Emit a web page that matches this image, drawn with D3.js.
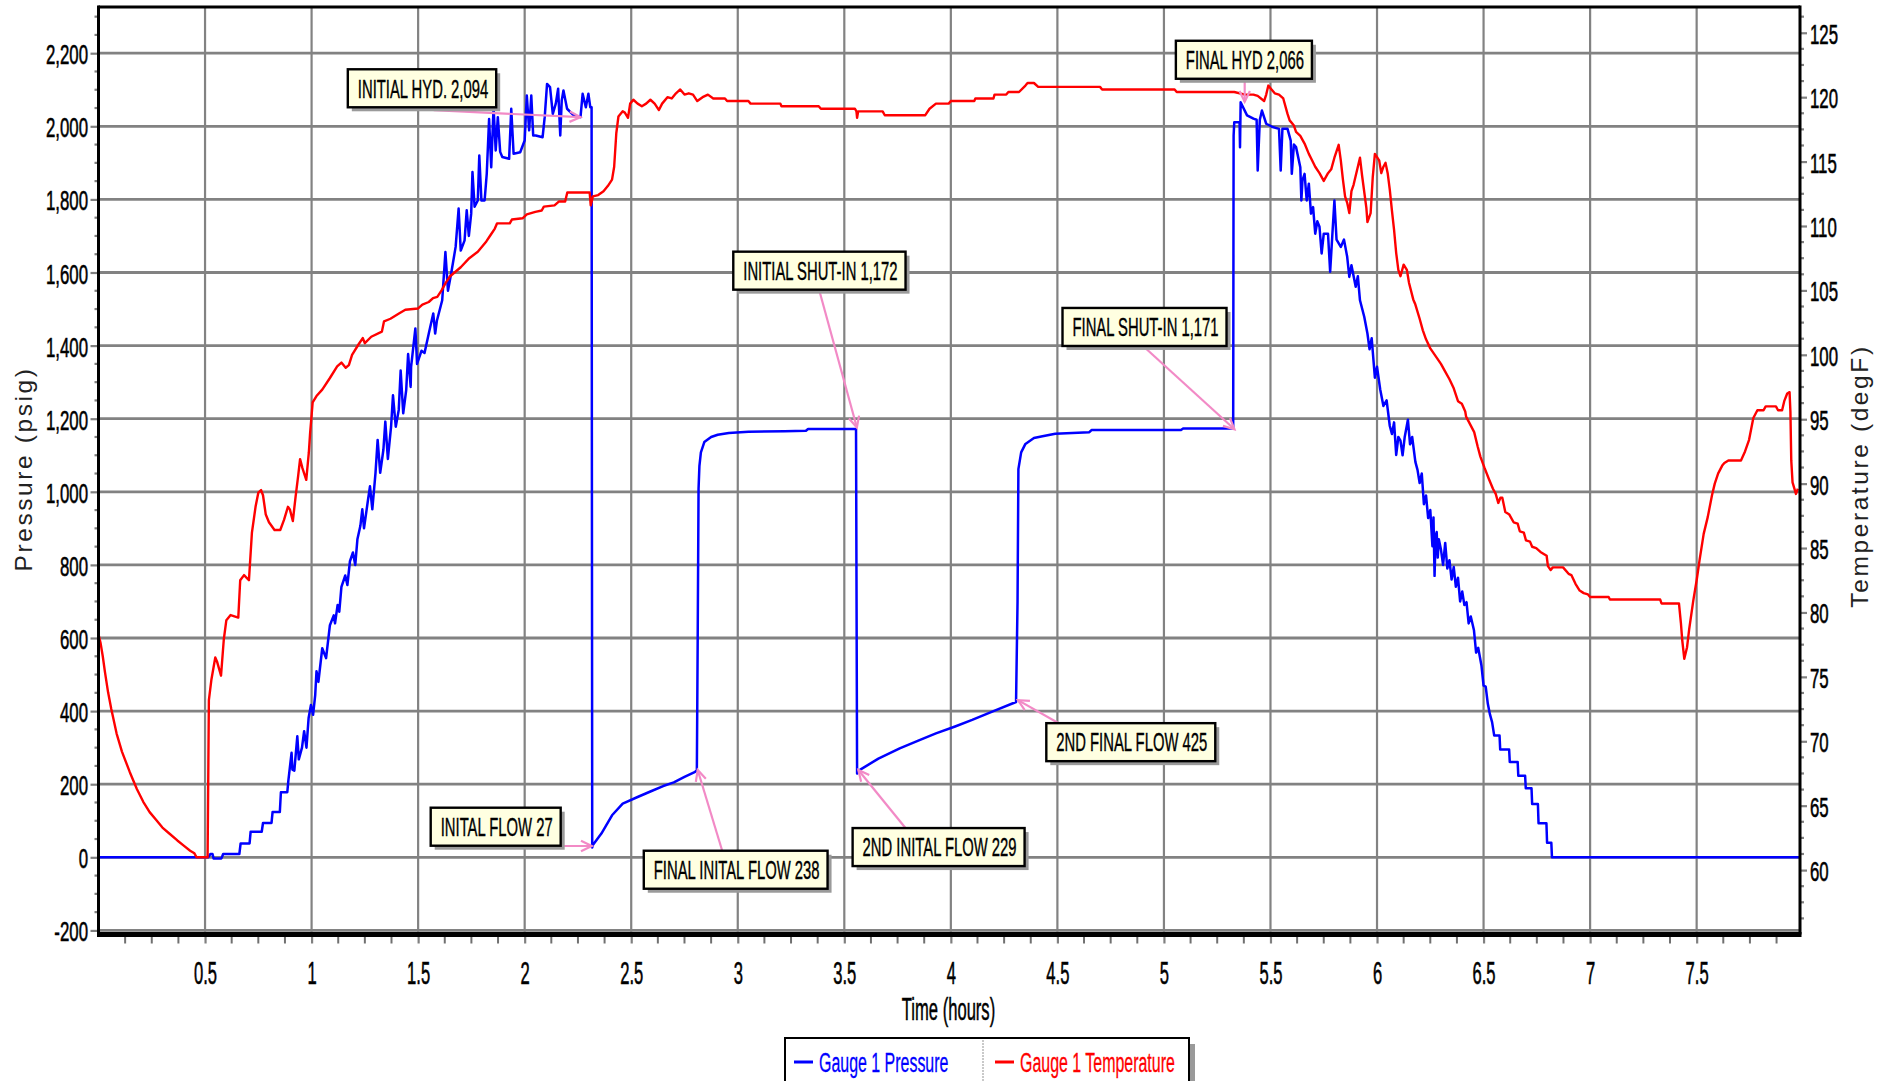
<!DOCTYPE html>
<html><head><meta charset="utf-8">
<script src="https://cdn.jsdelivr.net/npm/d3@7"></script>
<style>html,body{margin:0;padding:0;background:#fff;overflow:hidden}svg{display:block}</style>
</head><body>
<svg id="c" width="1900" height="1081"></svg>
<script>
// ---------------- DATA ----------------
const seriesNames = ["Gauge 1 Pressure", "Gauge 1 Temperature"];
const timeTicks = [0.5,1,1.5,2,2.5,3,3.5,4,4.5,5,5.5,6,6.5,7,7.5];
const pressureTicks = [-200,0,200,400,600,800,1000,1200,1400,1600,1800,2000,2200];
const tempTicks = [60,65,70,75,80,85,90,95,100,105,110,115,120,125];

// [time (hours), pressure (psig)]
const pressure = [
[0,0],[0.515,0],[0.525,9],[0.535,9],[0.54,-3],[0.577,-3],[0.585,9],[0.661,9],[0.667,38],[0.709,38],[0.714,70],[0.766,70],[0.772,94],[0.812,94],[0.817,124],[0.851,124],[0.856,178],[0.886,178],[0.891,210],[0.906,286],[0.91,240],[0.919,237],[0.933,331],[0.94,268],[0.955,300],[0.965,345],[0.976,300],[0.986,381],[0.997,417],[1.007,390],[1.017,444],[1.023,509],[1.032,480],[1.05,572],[1.068,545],[1.086,635],[1.104,662],[1.11,640],[1.122,690],[1.13,672],[1.14,740],[1.158,771],[1.168,745],[1.18,810],[1.194,834],[1.205,800],[1.215,870],[1.229,907],[1.238,952],[1.246,900],[1.265,979],[1.274,1015],[1.285,952],[1.30,1052],[1.31,1142],[1.322,1052],[1.337,1115],[1.346,1192],[1.358,1090],[1.373,1178],[1.382,1264],[1.395,1178],[1.409,1224],[1.418,1332],[1.43,1215],[1.444,1278],[1.453,1377],[1.465,1287],[1.467,1342],[1.487,1447],[1.495,1350],[1.516,1386],[1.53,1380],[1.55,1433],[1.571,1488],[1.58,1433],[1.588,1468],[1.613,1524],[1.628,1656],[1.64,1550],[1.655,1597],[1.676,1670],[1.69,1775],[1.70,1660],[1.718,1688],[1.728,1770],[1.738,1700],[1.749,1761],[1.755,1875],[1.765,1780],[1.78,1797],[1.787,1920],[1.797,1797],[1.812,1797],[1.822,1870],[1.833,2020],[1.843,1888],[1.854,2052],[1.864,1934],[1.874,2025],[1.885,1930],[1.895,1916],[1.927,1911],[1.937,2048],[1.948,1925],[1.979,1929],[2.0,1961],[2.01,2084],[2.021,1989],[2.031,2084],[2.04,1975],[2.052,1975],[2.084,1970],[2.094,2025],[2.105,2116],[2.119,2107],[2.132,2034],[2.146,2062],[2.157,2103],[2.167,1975],[2.174,2071],[2.182,2098],[2.199,2048],[2.23,2030],[2.262,2025],[2.272,2089],[2.287,2052],[2.299,2089],[2.308,2052],[2.314,2052],[2.317,27],
[2.32,34],[2.36,65],[2.41,115],[2.46,147],[2.53,165],[2.59,180],[2.65,195],[2.70,205],[2.75,220],[2.80,234],[2.808,238],[2.812,600],[2.816,1008],[2.82,1070],[2.827,1108],[2.843,1136],[2.875,1150],[2.906,1156],[2.958,1161],[3.05,1164],[3.22,1166],[3.32,1167],[3.33,1172],[3.555,1172],[3.56,229],
[3.575,240],[3.66,270],[3.76,298],[3.85,320],[3.93,339],[4.02,358],[4.10,376],[4.20,400],[4.306,425],[4.313,700],[4.317,1062],[4.33,1108],[4.35,1131],[4.39,1147],[4.43,1152],[4.49,1159],[4.65,1163],[4.66,1169],[5.08,1169],[5.09,1173],[5.325,1173],
[5.327,1975],[5.33,2011],[5.355,2011],[5.357,1943],[5.36,2066],[5.39,2030],[5.42,2021],[5.435,2018],[5.44,1879],[5.45,2018],[5.46,2043],[5.48,2007],[5.51,1998],[5.54,1993],[5.548,1879],[5.556,1993],[5.58,1993],[5.595,1961],[5.60,1870],[5.61,1950],[5.62,1943],[5.64,1888],[5.645,1797],[5.65,1852],[5.66,1870],[5.67,1797],[5.68,1843],[5.69,1761],[5.70,1779],[5.71,1706],[5.72,1740],[5.73,1725],[5.74,1652],[5.75,1706],[5.77,1706],[5.78,1602],[5.79,1700],[5.80,1797],[5.81,1690],[5.83,1670],[5.845,1690],[5.86,1643],[5.87,1588],[5.88,1620],[5.90,1561],[5.91,1590],[5.92,1524],[5.94,1479],[5.955,1433],[5.965,1390],[5.975,1420],[5.99,1312],[6.0,1342],[6.015,1280],[6.03,1235],[6.045,1250],[6.06,1180],[6.07,1158],[6.08,1190],[6.09,1101],[6.10,1150],[6.11,1140],[6.12,1100],[6.13,1150],[6.145,1197],[6.155,1130],[6.165,1150],[6.18,1082],[6.19,1060],[6.20,1024],[6.21,1050],[6.22,966],[6.23,990],[6.24,928],[6.25,950],[6.26,851],[6.265,930],[6.27,770],[6.275,880],[6.28,890],[6.285,820],[6.29,870],[6.30,842],[6.31,800],[6.32,860],[6.33,790],[6.34,813],[6.35,760],[6.36,794],[6.37,740],[6.38,765],[6.39,700],[6.40,727],[6.41,690],[6.42,698],[6.43,640],[6.44,659],[6.455,621],[6.465,560],[6.475,573],[6.49,525],[6.50,470],[6.51,467],[6.52,420],[6.53,391],[6.54,370],[6.55,333],[6.575,333],[6.578,295],[6.62,295],[6.623,261],[6.66,261],[6.663,223],[6.695,223],[6.698,189],[6.725,189],[6.728,146],[6.755,146],[6.758,93],[6.795,93],[6.798,40],[6.818,40],[6.821,0],[7.985,0]
];

// [time (hours), temperature (degF)]
const temperature = [
[0,78.3],[0.01,77.6],[0.02,76.6],[0.03,75.4],[0.045,73.8],[0.06,72.5],[0.085,70.6],[0.11,69.2],[0.147,67.6],[0.18,66.3],[0.21,65.3],[0.24,64.5],[0.27,63.9],[0.30,63.3],[0.335,62.8],[0.37,62.3],[0.40,61.9],[0.43,61.5],[0.45,61.3],[0.46,61.0],[0.512,61.0],
[0.518,73.2],[0.53,74.8],[0.548,76.5],[0.556,76.2],[0.575,75.1],[0.588,77.9],[0.60,79.4],[0.62,79.8],[0.656,79.6],[0.665,82.5],[0.683,82.9],[0.706,82.5],[0.72,86.2],[0.737,88.2],[0.75,89.3],[0.763,89.5],[0.772,89.1],[0.785,87.6],[0.80,87.0],[0.826,86.4],[0.853,86.4],[0.871,87.2],[0.889,88.2],[0.898,88.0],[0.912,87.1],[0.925,89.0],[0.937,90.6],[0.946,91.9],[0.957,91.2],[0.975,90.3],[0.987,92.4],[0.993,93.9],[1.005,96.3],[1.023,96.8],[1.05,97.3],[1.086,98.2],[1.12,99.1],[1.14,99.4],[1.16,99.0],[1.175,99.2],[1.19,100.0],[1.22,100.8],[1.24,101.3],[1.25,100.9],[1.28,101.4],[1.33,101.8],[1.34,102.6],[1.37,102.8],[1.41,103.2],[1.44,103.5],[1.50,103.6],[1.52,103.9],[1.55,104.1],[1.57,104.4],[1.59,104.5],[1.61,105.0],[1.63,105.6],[1.65,106.1],[1.70,106.8],[1.74,107.5],[1.78,108.0],[1.82,108.8],[1.84,109.3],[1.86,109.8],[1.87,110.2],[1.93,110.2],[1.94,110.5],[1.99,110.6],[2.01,110.9],[2.05,111.1],[2.08,111.2],[2.09,111.5],[2.14,111.6],[2.16,111.9],[2.19,111.9],[2.20,112.6],[2.305,112.6],[2.31,111.6],[2.32,112.3],[2.345,112.4],[2.37,112.7],[2.39,113.1],[2.41,113.6],[2.42,114.6],[2.43,117.2],[2.44,118.5],[2.46,118.9],[2.47,118.8],[2.485,118.4],[2.495,119.5],[2.51,119.8],[2.53,119.5],[2.55,119.3],[2.57,119.5],[2.59,119.8],[2.61,119.5],[2.63,119.0],[2.645,119.5],[2.67,120.0],[2.69,119.9],[2.71,120.3],[2.73,120.6],[2.75,120.2],[2.77,120.3],[2.79,120.2],[2.81,119.7],[2.835,120.0],[2.86,120.2],[2.885,119.9],[2.94,119.9],[2.95,119.7],[3.05,119.7],[3.06,119.5],[3.20,119.5],[3.205,119.3],[3.38,119.3],[3.39,119.1],[3.55,119.1],[3.557,118.9],[3.56,118.4],[3.565,118.9],[3.68,118.9],[3.69,118.6],[3.88,118.6],[3.90,119.1],[3.93,119.5],[3.99,119.5],[4.0,119.7],[4.11,119.7],[4.115,119.9],[4.20,119.9],[4.205,120.2],[4.26,120.2],[4.27,120.4],[4.32,120.4],[4.35,120.9],[4.36,121.1],[4.39,121.1],[4.41,120.8],[4.70,120.8],[4.71,120.6],[5.05,120.6],[5.06,120.4],[5.33,120.4],[5.38,120.2],[5.42,120.2],[5.44,120.1],[5.47,119.7],[5.48,120.2],[5.49,120.9],[5.50,120.7],[5.52,120.3],[5.54,120.2],[5.56,119.9],[5.58,118.7],[5.59,118.2],[5.61,117.8],[5.62,117.3],[5.64,117.0],[5.66,116.4],[5.68,115.6],[5.695,115.1],[5.71,114.6],[5.73,114.1],[5.75,113.5],[5.77,114.1],[5.785,114.4],[5.80,115.3],[5.82,116.3],[5.83,115.1],[5.84,113.6],[5.85,112.3],[5.86,111.8],[5.87,111.0],[5.88,112.7],[5.89,113.2],[5.91,114.6],[5.92,115.3],[5.93,113.9],[5.95,111.4],[5.955,110.3],[5.97,111.0],[5.98,113.8],[5.99,115.6],[6.01,115.1],[6.02,114.1],[6.03,114.6],[6.04,114.9],[6.05,114.1],[6.06,112.8],[6.07,111.2],[6.08,109.7],[6.09,107.9],[6.10,106.6],[6.11,106.1],[6.125,107.0],[6.14,106.6],[6.15,105.6],[6.17,104.3],[6.18,103.9],[6.20,102.8],[6.215,101.9],[6.23,101.2],[6.25,100.5],[6.30,99.3],[6.32,98.7],[6.34,98.1],[6.36,97.4],[6.38,96.4],[6.398,96.2],[6.414,95.6],[6.418,95.2],[6.437,94.6],[6.456,94.0],[6.472,92.9],[6.485,92.1],[6.505,91.2],[6.524,90.4],[6.544,89.6],[6.557,89.2],[6.569,88.5],[6.579,88.9],[6.588,88.9],[6.602,87.8],[6.621,87.6],[6.641,87.0],[6.66,86.9],[6.67,86.3],[6.689,86.2],[6.699,85.6],[6.718,85.5],[6.728,85.1],[6.747,85.0],[6.767,84.7],[6.796,84.4],[6.802,83.6],[6.815,83.3],[6.825,83.5],[6.873,83.5],[6.899,83.0],[6.912,82.9],[6.932,82.2],[6.951,81.7],[6.97,81.5],[6.99,81.4],[7.0,81.2],[7.087,81.2],[7.093,81.0],[7.329,81.0],[7.335,80.7],[7.417,80.7],[7.426,79.2],[7.432,77.9],[7.442,76.4],[7.455,77.3],[7.465,78.7],[7.484,80.9],[7.50,82.5],[7.514,84.1],[7.533,86.1],[7.552,87.4],[7.572,89.1],[7.585,90.0],[7.601,90.8],[7.62,91.4],[7.63,91.6],[7.649,91.8],[7.708,91.8],[7.727,92.5],[7.746,93.4],[7.766,95.1],[7.785,95.7],[7.814,95.7],[7.824,96.0],[7.872,96.0],[7.882,95.7],[7.901,95.7],[7.911,96.4],[7.925,97.0],[7.936,97.1],[7.94,95.6],[7.944,91.8],[7.95,90.1],[7.966,89.2],[7.975,89.6]
];

// callouts: label, box top-left [t, psig], arrow tail [t, psig], arrow head [t, psig]
const notes = [
  {text:"INITIAL HYD. 2,094",      box:[1.170,2156], tail:[1.573,2044], head:[2.262,2025]},
  {text:"INITAL FLOW 27",          box:[1.559,135.7], tail:[2.160,31],  head:[2.315,31]},
  {text:"FINAL INITAL FLOW 238",   box:[2.559,18],   tail:[2.926,20],   head:[2.812,239]},
  {text:"INITIAL SHUT-IN 1,172",   box:[2.979,1657], tail:[3.383,1550], head:[3.559,1176]},
  {text:"2ND INITAL FLOW 229",     box:[3.539,80],   tail:[3.786,81],   head:[3.566,239]},
  {text:"2ND FINAL FLOW 425",      box:[4.448,367],  tail:[4.502,368],  head:[4.315,430]},
  {text:"FINAL SHUT-IN 1,171",     box:[4.524,1503], tail:[4.906,1397], head:[5.331,1171]},
  {text:"FINAL HYD 2,066",         box:[5.056,2234], tail:[5.379,2127], head:[5.379,2067]}
];

// ---------------- CHART ----------------
const L = 98.5, R = 1800, T = 7, B = 934.5;
const FONT = "'Liberation Sans', Arial, sans-serif";
const SX = 0.57;
const svg = d3.select("#c");
const x = d3.scaleLinear().domain([0, 7.985]).range([L, R]);
const yP = d3.scaleLinear().domain([-211.2, 2326.4]).range([B, T]);
const yT = d3.scaleLinear().domain([55.0, 127.0]).range([B, T]);

svg.append("rect").attr("width",1900).attr("height",1081).attr("fill","#fff");
svg.append("defs").append("clipPath").attr("id","clip")
  .append("rect").attr("x",L).attr("y",T).attr("width",R-L).attr("height",B-T);

// gridlines
const grid = svg.append("g");
grid.selectAll("line.v").data(timeTicks).join("line")
  .attr("x1",d=>x(d)).attr("x2",d=>x(d)).attr("y1",T).attr("y2",B)
  .attr("stroke","#828282").attr("stroke-width",2.2);
grid.selectAll("line.h").data(pressureTicks).join("line")
  .attr("x1",L).attr("x2",R).attr("y1",d=>yP(d)).attr("y2",d=>yP(d))
  .attr("stroke","#828282").attr("stroke-width",2.8);

// series
const plot = svg.append("g").attr("clip-path","url(#clip)");
plot.append("path").datum(pressure)
  .attr("d", d3.line().x(d=>x(d[0])).y(d=>yP(d[1])))
  .attr("fill","none").attr("stroke","#0000ff").attr("stroke-width",2.5).attr("stroke-linejoin","round");
plot.append("path").datum(temperature)
  .attr("d", d3.line().x(d=>x(d[0])).y(d=>yT(d[1])))
  .attr("fill","none").attr("stroke","#ff0000").attr("stroke-width",2.4).attr("stroke-linejoin","round");

// minor ticks
const minorT = d3.range(0.125, 7.985, 0.125).filter(v => Math.abs(v*2 - Math.round(v*2)) > 1e-6);
svg.append("g").selectAll("line").data(minorT).join("line")
  .attr("x1",d=>x(d)).attr("x2",d=>x(d)).attr("y1",B).attr("y2",B+9)
  .attr("stroke","#707070").attr("stroke-width",2);
const minorP = d3.range(-200, 2326, 50).filter(v => v % 200 !== 0);
svg.append("g").selectAll("line").data(minorP).join("line")
  .attr("x1",L-4).attr("x2",L).attr("y1",d=>yP(d)).attr("y2",d=>yP(d))
  .attr("stroke","#808080").attr("stroke-width",2.2);
const minorTT = d3.range(56.25, 127, 1.25).filter(v => Math.abs(v/5 - Math.round(v/5)) > 1e-6);
svg.append("g").selectAll("line").data(minorTT).join("line")
  .attr("x1",R).attr("x2",R+4).attr("y1",d=>yT(d)).attr("y2",d=>yT(d))
  .attr("stroke","#808080").attr("stroke-width",2.2);

// axes (ticks + labels)
const fmtP = d => d3.format(",")(d).replace("\u2212","-");
const gx = svg.append("g").attr("transform",`translate(0,${B})`)
  .call(d3.axisBottom(x).tickValues(timeTicks).tickSize(9).tickSizeOuter(0).tickFormat(d3.format("")));
const gl = svg.append("g").attr("transform",`translate(${L},0)`)
  .call(d3.axisLeft(yP).tickValues(pressureTicks).tickSize(8).tickSizeOuter(0).tickFormat(fmtP));
const gr = svg.append("g").attr("transform",`translate(${R},0)`)
  .call(d3.axisRight(yT).tickValues(tempTicks).tickSize(7).tickSizeOuter(0).tickFormat(d3.format("d")));
[gx,gl,gr].forEach(g => { g.select(".domain").remove();
  g.selectAll(".tick line").attr("stroke","#808080").attr("stroke-width",2.2); });
gx.selectAll(".tick text").attr("y",null).attr("dy",null)
  .attr("transform",`translate(0,49.5) scale(0.535,1)`)
  .attr("font-size",31).attr("font-family",FONT).attr("fill","#000")
  .attr("stroke","#000").attr("stroke-width",0.6);
gl.selectAll(".tick text").attr("x",null).attr("dy",null)
  .attr("transform",`translate(-10.5,10.5) scale(0.59,1)`)
  .attr("font-size",28.5).attr("font-family",FONT).attr("fill","#000")
  .attr("stroke","#000").attr("stroke-width",0.6);
gr.selectAll(".tick text").attr("x",null).attr("dy",null)
  .attr("transform",`translate(10,10.5) scale(0.59,1)`)
  .attr("font-size",28.5).attr("font-family",FONT).attr("fill","#000")
  .attr("stroke","#000").attr("stroke-width",0.6);

// frame
const frame = svg.append("g").attr("stroke","#000");
frame.append("line").attr("x1",L).attr("x2",R).attr("y1",T).attr("y2",T).attr("stroke-width",3);
frame.append("line").attr("x1",L).attr("x2",L).attr("y1",T-1.5).attr("y2",B).attr("stroke-width",3);
frame.append("line").attr("x1",R).attr("x2",R).attr("y1",T-1.5).attr("y2",B).attr("stroke-width",3);
frame.append("line").attr("x1",L-1.5).attr("x2",R+1.5).attr("y1",B).attr("y2",B).attr("stroke-width",5);

// axis titles
svg.append("text").attr("transform",`translate(948.5,1020) scale(0.535,1)`)
  .attr("text-anchor","middle").attr("font-size",31).attr("font-family",FONT)
  .attr("stroke","#000").attr("stroke-width",0.5).text("Time (hours)");
svg.append("text").attr("transform","translate(32,469) rotate(-90)")
  .attr("text-anchor","middle").attr("font-size",24.5).attr("letter-spacing",2.6)
  .attr("font-family",FONT).attr("fill","#222").text("Pressure (psig)");
svg.append("text").attr("transform","translate(1868,476) rotate(-90)")
  .attr("text-anchor","middle").attr("font-size",24.5).attr("letter-spacing",2.6)
  .attr("font-family",FONT).attr("fill","#222").text("Temperature (degF)");

// callouts
const PINK = "#f28ac6";
const ann = svg.append("g");
notes.forEach(n => {
  const tx = x(n.tail[0]), ty = yP(n.tail[1]);
  const hx = x(n.head[0]), hy = yP(n.head[1]);
  const a = Math.atan2(hy-ty, hx-tx), al = 12, aa = 0.45;
  const g = ann.append("g");
  g.append("line").attr("x1",tx).attr("y1",ty).attr("x2",hx).attr("y2",hy)
    .attr("stroke",PINK).attr("stroke-width",2.2);
  g.append("path")
    .attr("d",`M${hx-al*Math.cos(a-aa)},${hy-al*Math.sin(a-aa)}L${hx},${hy}L${hx-al*Math.cos(a+aa)},${hy-al*Math.sin(a+aa)}`)
    .attr("fill","none").attr("stroke",PINK).attr("stroke-width",2.2);
  const bx = x(n.box[0]), by = yP(n.box[1]), h = 38;
  const shadow = g.append("rect"), box = g.append("rect");
  const t = g.append("text").attr("transform",`translate(${bx+10},${by+h/2+9.3}) scale(${SX},1)`)
    .attr("font-size",26).attr("font-family",FONT).attr("fill","#000")
    .attr("stroke","#000").attr("stroke-width",0.4).text(n.text);
  const w = t.node().getComputedTextLength()*SX + 18;
  shadow.attr("x",bx+4).attr("y",by+4).attr("width",w).attr("height",h).attr("fill","#9a9a9a");
  box.attr("x",bx).attr("y",by).attr("width",w).attr("height",h)
    .attr("fill","#ffffe1").attr("stroke","#000").attr("stroke-width",2.4);
  t.raise();
});

// legend
const lg = svg.append("g");
lg.append("rect").attr("x",791).attr("y",1044).attr("width",404).attr("height",50).attr("fill","#9a9a9a");
lg.append("rect").attr("x",785).attr("y",1038).attr("width",404).attr("height",50)
  .attr("fill","#fff").attr("stroke","#000").attr("stroke-width",2);
lg.append("line").attr("x1",983).attr("x2",983).attr("y1",1040).attr("y2",1081)
  .attr("stroke","#b8b8b8").attr("stroke-width",1.5).attr("stroke-dasharray","2,1");
const legendColors = ["#0000ff","#ff0000"];
const legendX = [794, 995];
seriesNames.forEach((s,i) => {
  lg.append("line").attr("x1",legendX[i]).attr("x2",legendX[i]+19).attr("y1",1062).attr("y2",1062)
    .attr("stroke",legendColors[i]).attr("stroke-width",3);
  lg.append("text").attr("transform",`translate(${legendX[i]+25},1072) scale(${SX},1)`)
    .attr("font-size",28).attr("font-family",FONT).attr("fill",legendColors[i])
    .attr("stroke",legendColors[i]).attr("stroke-width",0.3).text(s);
});
</script>
</body></html>
